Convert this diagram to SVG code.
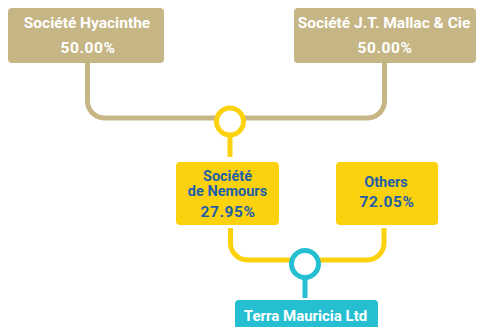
<svg xmlns="http://www.w3.org/2000/svg" width="477" height="327" viewBox="0 0 477 327">
  <style>
    .tan { fill: #C6B585; }
    .yel { fill: #FCD20F; }
    .teal { fill: #26BFD1; }
    .lbl { font-family: Roboto, "Open Sans", "Liberation Sans", sans-serif; font-weight: bold; text-anchor: middle; }
    .big { font-size: 15.5px; }
    .mid { font-size: 14.5px; }
    .pct { letter-spacing: 0.6px; }
    .w { fill: #FFFFFF; }
    .b { fill: #1F5FA8; }
    .line { fill: none; stroke-width: 5; }
  </style>
  <rect width="477" height="327" fill="#FFFFFF"/>

  <g id="connectors">
    <!-- tan links from the two shareholders -->
    <path class="line" stroke="#C6B585" d="M87.5 63 V101 a17 17 0 0 0 17 17 H367.5 a17 17 0 0 0 17 -17 V63"/>
    <circle cx="230" cy="121.5" r="13.5" fill="#FFFFFF" stroke="#FCD20F" stroke-width="5"/>
    <line class="line" stroke="#FCD20F" x1="230" y1="135" x2="230" y2="157"/>
    <!-- yellow links to the subsidiary -->
    <path class="line" stroke="#FCD20F" d="M230.5 228 V243 a17 17 0 0 0 17 17 H367 a17 17 0 0 0 17 -17 V228"/>
    <circle cx="305" cy="264" r="13.5" fill="#FFFFFF" stroke="#26BFD1" stroke-width="5"/>
    <line class="line" stroke="#26BFD1" x1="305" y1="277.5" x2="305" y2="298"/>
  </g>

  <g id="hyacinthe">
    <rect class="tan" x="8" y="8" width="156" height="55" rx="4"/>
    <text class="lbl big w" x="87" y="28.3">Société Hyacinthe</text>
    <text class="lbl big pct w" x="88" y="52.7">50.00%</text>
  </g>

  <g id="mallac">
    <rect class="tan" x="294" y="8" width="182" height="55" rx="4"/>
    <text class="lbl big w" x="384" y="28.3">Société J.T. Mallac &amp; Cie</text>
    <text class="lbl big pct w" x="385" y="52.7">50.00%</text>
  </g>

  <g id="nemours">
    <rect class="yel" x="176" y="162" width="103" height="63" rx="4"/>
    <text class="lbl mid b" x="227.5" y="181">Société</text>
    <text class="lbl mid b" x="227.5" y="196">de Nemours</text>
    <text class="lbl big pct b" x="228" y="216.5">27.95%</text>
  </g>

  <g id="others">
    <rect class="yel" x="336" y="162" width="102" height="63" rx="4"/>
    <text class="lbl mid b" x="386" y="187">Others</text>
    <text class="lbl big pct b" x="387" y="207">72.05%</text>
  </g>

  <g id="terra">
    <rect class="teal" x="235" y="300" width="143" height="32" rx="4"/>
    <text class="lbl w" font-size="15" x="305.5" y="320.5">Terra Mauricia Ltd</text>
  </g>
</svg>
